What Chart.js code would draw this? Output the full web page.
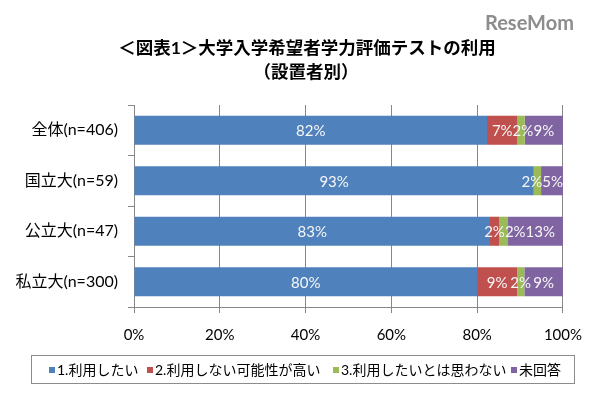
<!DOCTYPE html>
<html>
<head>
<meta charset="utf-8">
<script src="https://cdn.jsdelivr.net/npm/chart.js@4.4.1/dist/chart.umd.min.js"></script>
<style>
  html, body { margin: 0; padding: 0; background: #ffffff; }
  #wrap { width: 595px; height: 395px; }
</style>
</head>
<body>
<div id="wrap"><canvas id="c" width="595" height="395"></canvas></div>
<script>
// ---- data ----
const titleLines = ['＜図表1＞大学入学希望者学力評価テストの利用', '（設置者別）'];
const categories = ['全体(n=406)', '国立大(n=59)', '公立大(n=47)', '私立大(n=300)'];
const seriesNames = ['1.利用したい', '2.利用しない可能性が高い', '3.利用したいとは思わない', '未回答'];
const series1 = [82.3, 93.2, 83.0, 80.0];
const series2 = [7.1, 0, 2.1, 9.3];
const series3 = [1.7, 1.7, 2.1, 1.7];
const series4 = [8.9, 5.1, 12.8, 9.0];
const xTickLabels = ['0%', '20%', '40%', '60%', '80%', '100%'];
const logoText = 'ReseMom';

// ---- styles ----
const colors = ['#4F81BD', '#C0504D', '#9BBB59', '#8064A2'];
const FONT = "'Lato', 'Noto Sans CJK JP', sans-serif";
const GRID = '#878787';
const legendMarkerX = [49, 147, 333, 511];

const allSeries = [series1, series2, series3, series4];

const labelPlugin = {
  id: 'segLabels',
  afterDatasetsDraw(chart) {
    const ctx = chart.ctx;
    const right = chart.chartArea.right;
    ctx.save();
    ctx.font = '15px ' + FONT;
    ctx.fillStyle = '#f6f6f6';
    ctx.textAlign = 'center';
    ctx.textBaseline = 'middle';
    const rows = categories.map(() => []);
    chart.data.datasets.forEach((ds, di) => {
      const meta = chart.getDatasetMeta(di);
      meta.data.forEach((el, i) => {
        const v = ds.data[i];
        if (!v || v < 0.5) return;
        const p = el.getProps(['x', 'y', 'base'], true);
        const text = Math.round(v) + '%';
        const w = ctx.measureText(text).width;
        rows[i].push({ text, w, cx: (p.x + p.base) / 2, y: p.y });
      });
    });
    rows.forEach(r => {
      // push right to avoid overlap
      for (let k = 1; k < r.length; k++) {
        const prevR = r[k - 1].cx + r[k - 1].w / 2;
        if (r[k].cx - r[k].w / 2 < prevR) r[k].cx = prevR + r[k].w / 2;
      }
      // keep within plot, push left
      for (let k = r.length - 1; k >= 0; k--) {
        const limit = k === r.length - 1 ? right : r[k + 1].cx - r[k + 1].w / 2;
        if (r[k].cx + r[k].w / 2 > limit) r[k].cx = limit - r[k].w / 2;
      }
      r.forEach(l => ctx.fillText(l.text, l.cx, l.y + 1));
    });
    ctx.restore();
  }
};

const decorPlugin = {
  id: 'decor',
  afterDraw(chart) {
    const ctx = chart.ctx;
    ctx.save();
    // title
    ctx.fillStyle = '#000';
    ctx.textAlign = 'center';
    ctx.textBaseline = 'middle';
    ctx.font = 'bold 17.5px ' + FONT;
    ctx.fillText(titleLines[0], 307, 48);
    ctx.fillText(titleLines[1], 306, 72);
    // logo
    ctx.font = 'bold 20px ' + FONT;
    ctx.fillStyle = '#8d8d8d';
    ctx.textAlign = 'left';
    ctx.fillText(logoText, 485, 24);
    // legend box
    ctx.strokeStyle = '#8c8c8c';
    ctx.lineWidth = 1;
    ctx.strokeRect(31.5, 355.5, 543, 28);
    ctx.font = '14px ' + FONT;
    ctx.textBaseline = 'middle';
    seriesNames.forEach((name, i) => {
      const x = legendMarkerX[i];
      ctx.fillStyle = colors[i];
      ctx.fillRect(x, 367, 6, 6);
      ctx.fillStyle = '#000';
      ctx.fillText(name, x + 8, 370);
    });
    ctx.restore();
  }
};

new Chart(document.getElementById('c'), {
  type: 'bar',
  data: {
    labels: categories,
    datasets: allSeries.map((d, i) => ({
      label: seriesNames[i],
      data: d,
      backgroundColor: colors[i],
      borderWidth: 0,
      barPercentage: 0.575,
      categoryPercentage: 1.0
    }))
  },
  options: {
    indexAxis: 'y',
    responsive: false,
    devicePixelRatio: 1,
    animation: false,
    layout: { padding: { top: 105, right: 28.5, left: 0, bottom: 0 } },
    plugins: {
      legend: { display: false },
      title: { display: false },
      tooltip: { enabled: false }
    },
    scales: {
      x: {
        stacked: true,
        min: 0,
        max: 100,
        ticks: {
          stepSize: 20,
          padding: 13,
          color: '#000',
          font: { family: FONT, size: 15 },
          callback: (v, idx) => xTickLabels[idx]
        },
        grid: { color: GRID, tickLength: 6, drawTicks: true, tickColor: GRID },
        border: { color: GRID },
        afterFit: (s) => { s.height = 88; }
      },
      y: {
        stacked: true,
        ticks: {
          padding: 10,
          color: '#000',
          font: { family: FONT, size: 16 }
        },
        grid: { drawOnChartArea: false, drawTicks: true, tickLength: 6, color: GRID, offset: true },
        border: { color: GRID },
        afterFit: (s) => { s.width = 134; }
      }
    }
  },
  plugins: [labelPlugin, decorPlugin]
});
</script>
</body>
</html>
